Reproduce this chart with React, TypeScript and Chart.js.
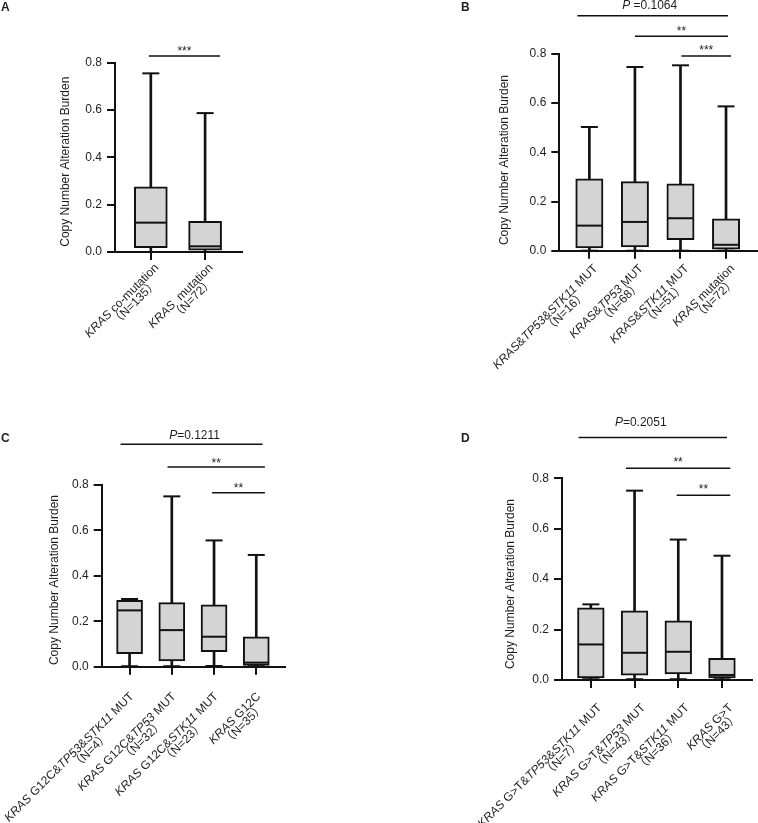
import React, { useEffect, useRef } from "react";
import { Chart, registerables } from "chart.js";

Chart.register(...registerables);

const FONT = '"Liberation Sans", Arial, "Noto Sans CJK SC", sans-serif';
const INK = "#111";
const TEXT = "#1e1e1e";
const BOX_FILL = "#d4d4d4";

// shared y axis
const yTickValues = [0, 0.2, 0.4, 0.6, 0.8];
const yTitle = "Copy Number Alteration Burden";

// ---- Panel A ----
const aCategories = ["_KRAS_ co-mutation", "_KRAS_  mutation"];
const aCounts = ["（N=135）", "（N=72）"];
const aMin = [0, 0];
const aQ1 = [0.018, 0.008];
const aMedian = [0.124, 0.024];
const aQ3 = [0.275, 0.13];
const aMax = [0.755, 0.587];

// ---- Panel B ----
const bCategories = ["_KRAS_&_TP53_&_STK11_ MUT", "_KRAS_&_TP53_ MUT", "_KRAS_&_STK11_ MUT", "_KRAS_ mutation"];
const bCounts = ["（N=16）", "（N=68）", "（N=51）", "（N=72）"];
const bMin = [0, 0, 0, 0];
const bQ1 = [0.011, 0.015, 0.045, 0.006];
const bMedian = [0.102, 0.117, 0.132, 0.024];
const bQ3 = [0.292, 0.281, 0.272, 0.13];
const bMax = [0.503, 0.747, 0.754, 0.587];

// ---- Panel C ----
const cCategories = ["_KRAS_ G12C&_TP53_&_STK11_ MUT", "_KRAS_ G12C&_TP53_ MUT", "_KRAS_ G12C&_STK11_ MUT", "_KRAS_ G12C"];
const cCounts = ["（N=4）", "（N=32）", "（N=23）", "（N=35）"];
const cMin = [0.002, 0.002, 0.003, 0.002];
const cQ1 = [0.057, 0.025, 0.066, 0.006];
const cMedian = [0.248, 0.161, 0.132, 0.018];
const cQ3 = [0.292, 0.282, 0.272, 0.132];
const cMax = [0.298, 0.75, 0.556, 0.492];

// ---- Panel D ----
const dCategories = ["_KRAS_ G>T&_TP53_&_STK11_ MUT", "_KRAS_ G>T&_TP53_ MUT", "_KRAS_ G>T&_STK11_ MUT", "_KRAS_ G>T"];
const dCounts = ["（N=7）", "（N=43）", "（N=36）", "（N=43）"];
const dMin = [0.003, 0.003, 0.003, 0.003];
const dQ1 = [0.008, 0.019, 0.024, 0.008];
const dMedian = [0.141, 0.108, 0.112, 0.02];
const dQ3 = [0.286, 0.274, 0.235, 0.086];
const dMax = [0.3, 0.751, 0.557, 0.493];

// significance annotations
const aTests = [{ from: 0, to: 1, text: "***" }];
const bTests = [
  { from: 0, to: 3, text: "_P_ =0.1064" },
  { from: 1, to: 3, text: "**" },
  { from: 2, to: 3, text: "***" },
];
const cTests = [
  { from: 0, to: 3, text: "_P_=0.1211" },
  { from: 1, to: 3, text: "**" },
  { from: 2, to: 3, text: "**" },
];
const dTests = [
  { from: 0, to: 3, text: "_P_=0.2051" },
  { from: 1, to: 3, text: "**" },
  { from: 2, to: 3, text: "**" },
];

type Panel = {
  letter: string;
  x: number; y: number; w: number; h: number;
  area: { left: number; top: number; right: number; bottom: number };
  cats: string[]; counts: string[];
  min: number[]; q1: number[]; med: number[]; q3: number[]; max: number[];
  tests: { from: number; to: number; text: string }[];
  // layout of annotations: [y level in axis units, dx start, dx end, text dy, text dx]
  testLayout: number[][];
  boxW: number; capW: number;
  lab: { dx: number; dy: number; gap: number; shift: number };
  titlePos: [number, number];
  letterPos: [number, number];
};

const panels: Panel[] = [
  {
    letter: "A", x: 0, y: 0, w: 379, h: 400,
    area: { left: 115, top: 62.7, right: 242, bottom: 252 },
    cats: aCategories, counts: aCounts, min: aMin, q1: aQ1, med: aMedian, q3: aQ3, max: aMax,
    tests: aTests, testLayout: [[0.828, -2, 15, 1.5, 0]],
    boxW: 33, capW: 17,
    lab: { dx: 6, dy: 14, gap: 10.5, shift: 0.3 },
    titlePos: [65.7, 161.7], letterPos: [1, 2],
  },
  {
    letter: "B", x: 379, y: 0, w: 379, h: 400,
    area: { left: 180.3, top: 54, right: 378, bottom: 250.7 },
    cats: bCategories, counts: bCounts, min: bMin, q1: bQ1, med: bMedian, q3: bQ3, max: bMax,
    tests: bTests, testLayout: [[0.956, -12, 2, 6.4, -3], [0.872, 0, 2, 1.5, 0], [0.792, 1, 5, 1.5, 0]],
    boxW: 27.3, capW: 17,
    lab: { dx: 6.5, dy: 16, gap: 10.5, shift: 0.3 },
    titlePos: [125.7, 160], letterPos: [82, 2],
  },
  {
    letter: "C", x: 0, y: 400, w: 379, h: 423,
    area: { left: 101.7, top: 85, right: 285, bottom: 266.7 },
    cats: cCategories, counts: cCounts, min: cMin, q1: cQ1, med: cMedian, q3: cQ3, max: cMax,
    tests: cTests, testLayout: [[0.979, -9, 6.3, 5, 3], [0.879, -4.3, 8.6, 0.5, 0], [0.766, -2, 8.6, 0.5, 0]],
    boxW: 26, capW: 17,
    lab: { dx: 2.4, dy: 28, gap: 10.5, shift: 0.35 },
    titlePos: [54.7, 180], letterPos: [1, 33],
  },
  {
    letter: "D", x: 379, y: 400, w: 379, h: 423,
    area: { left: 183, top: 78.3, right: 372.7, bottom: 280 },
    cats: dCategories, counts: dCounts, min: dMin, q1: dQ1, med: dMedian, q3: dQ3, max: dMax,
    tests: dTests, testLayout: [[0.962, -12.3, 5, 11.8, -12], [0.84, -8.6, 8.3, 2.5, 0], [0.733, -1.6, 8.3, 2.5, 0]],
    boxW: 26.7, capW: 17,
    lab: { dx: 9, dy: 26, gap: 10.5, shift: 0.33 },
    titlePos: [131.7, 184], letterPos: [82, 33],
  },
];

function richWidths(ctx: CanvasRenderingContext2D, text: string, size: number, weight = "") {
  const parts = text.split("_");
  const widths = parts.map((s, k) => {
    ctx.font = `${k % 2 ? "italic " : ""}${weight}${size}px ${FONT}`;
    return ctx.measureText(s).width;
  });
  return { parts, widths, total: widths.reduce((a, b) => a + b, 0) };
}

function drawRich(ctx: CanvasRenderingContext2D, text: string, x: number, y: number, size: number, align: "left" | "right" | "center") {
  const { parts, widths, total } = richWidths(ctx, text, size);
  let cx = align === "left" ? x : align === "right" ? x - total : x - total / 2;
  ctx.textAlign = "left";
  parts.forEach((s, k) => {
    ctx.font = `${k % 2 ? "italic " : ""}${size}px ${FONT}`;
    ctx.fillText(s, cx, y);
    cx += widths[k];
  });
  return total;
}

function extrasPlugin(p: Panel) {
  return {
    id: "boxExtras" + p.letter,
    afterDatasetsDraw(chart: any) {
      const ctx: CanvasRenderingContext2D = chart.ctx;
      const xs = chart.scales.x;
      const ys = chart.scales.y;
      ctx.save();
      ctx.strokeStyle = INK;
      ctx.lineWidth = 2;
      p.med.forEach((m, i) => {
        const cx = xs.getPixelForValue(i);
        const ym = ys.getPixelForValue(m);
        ctx.beginPath();
        ctx.moveTo(cx - p.boxW / 2 + 1, ym);
        ctx.lineTo(cx + p.boxW / 2 - 1, ym);
        ctx.stroke();
        for (const v of [p.max[i], p.min[i]]) {
          const yv = ys.getPixelForValue(v);
          ctx.beginPath();
          ctx.moveTo(cx - p.capW / 2, yv);
          ctx.lineTo(cx + p.capW / 2, yv);
          ctx.stroke();
        }
      });
      ctx.restore();
    },
    afterDraw(chart: any) {
      const ctx: CanvasRenderingContext2D = chart.ctx;
      const xs = chart.scales.x;
      const ys = chart.scales.y;
      const axisY = chart.chartArea.bottom;
      ctx.save();
      ctx.fillStyle = TEXT;
      // category labels, rotated 45 degrees
      ctx.textBaseline = "middle";
      p.cats.forEach((cat, i) => {
        const cx = xs.getPixelForValue(i);
        ctx.save();
        ctx.translate(cx + p.lab.dx, axisY + p.lab.dy);
        ctx.rotate(-Math.PI / 4);
        const w1 = richWidths(ctx, cat, 12).total;
        const w2 = richWidths(ctx, p.counts[i], 12).total;
        drawRich(ctx, cat, 0, 0, 12, "right");
        drawRich(ctx, p.counts[i], -(w1 - w2) * p.lab.shift, p.lab.gap, 12, "right");
        ctx.restore();
      });
      // y axis title
      ctx.save();
      ctx.translate(p.titlePos[0], p.titlePos[1]);
      ctx.rotate(-Math.PI / 2);
      ctx.font = `12px ${FONT}`;
      ctx.textAlign = "center";
      ctx.textBaseline = "middle";
      ctx.fillText(yTitle, 0, 0);
      ctx.restore();
      // panel letter
      ctx.font = `bold 12px ${FONT}`;
      ctx.textAlign = "left";
      ctx.textBaseline = "top";
      ctx.fillText(p.letter, p.letterPos[0], p.letterPos[1]);
      // significance brackets
      ctx.strokeStyle = INK;
      ctx.lineWidth = 1.5;
      ctx.textBaseline = "alphabetic";
      p.tests.forEach((t, k) => {
        const [lvl, dx0, dx1, tdy, tdx] = p.testLayout[k];
        const y = ys.getPixelForValue(lvl);
        const x0 = xs.getPixelForValue(t.from) + dx0;
        const x1 = xs.getPixelForValue(t.to) + dx1;
        ctx.beginPath();
        ctx.moveTo(x0, y);
        ctx.lineTo(x1, y);
        ctx.stroke();
        drawRich(ctx, t.text, (x0 + x1) / 2 + tdx, y - tdy, 12, "center");
      });
      ctx.restore();
    },
  };
}

function makeChart(canvas: HTMLCanvasElement, p: Panel) {
  const n = p.cats.length;
  const idx = p.cats.map((_, i) => i);
  const axisBorder = { display: true, width: 2, color: INK };
  return new Chart(canvas, {
    type: "bar",
    data: {
      datasets: [
        {
          label: "box",
          data: idx.map((i) => ({ x: i, y: [p.q1[i], p.q3[i]] })) as any,
          backgroundColor: BOX_FILL,
          borderColor: INK,
          borderWidth: 2,
          borderSkipped: false,
          barThickness: p.boxW,
          grouped: false,
        } as any,
        {
          label: "whisker",
          data: idx.map((i) => ({ x: i, y: [p.min[i], p.max[i]] })) as any,
          backgroundColor: INK,
          borderWidth: 0,
          barThickness: 2,
          grouped: false,
        } as any,
      ],
    },
    options: {
      animation: false,
      responsive: false,
      maintainAspectRatio: false,
      devicePixelRatio: 1,
      events: [],
      layout: { padding: { left: 0, top: p.area.top, right: p.w - p.area.right, bottom: 0 } },
      plugins: { legend: { display: false }, tooltip: { enabled: false }, title: { display: false } },
      scales: {
        x: {
          type: "linear",
          offset: false,
          min: -0.66,
          max: n - 0.32,
          afterBuildTicks: (s: any) => { s.ticks = idx.map((v) => ({ value: v })); },
          afterFit: (s: any) => { s.height = p.h - p.area.bottom; },
          grid: { offset: false, drawOnChartArea: false, drawTicks: true, tickLength: 8, lineWidth: 2, color: INK },
          border: axisBorder,
          ticks: { display: false },
        },
        y: {
          type: "linear",
          min: 0,
          max: 0.8,
          afterBuildTicks: (s: any) => { s.ticks = yTickValues.map((v) => ({ value: v })); },
          afterFit: (s: any) => { s.width = p.area.left; },
          grid: { offset: false, drawOnChartArea: false, drawTicks: true, tickLength: 8, lineWidth: 2, color: INK },
          border: axisBorder,
          ticks: {
            padding: 5,
            color: TEXT,
            font: { family: FONT, size: 12 },
            callback: (v: any) => Number(v).toFixed(1),
          },
        },
      } as any,
    },
    plugins: [extrasPlugin(p)],
  } as any);
}

function PanelChart({ p }: { p: Panel }) {
  const ref = useRef<HTMLCanvasElement | null>(null);
  useEffect(() => {
    const chart = makeChart(ref.current as HTMLCanvasElement, p);
    return () => chart.destroy();
  }, [p]);
  return (
    <div style={{ position: "absolute", left: p.x, top: p.y, width: p.w, height: p.h }}>
      <canvas ref={ref} width={p.w} height={p.h} style={{ width: p.w, height: p.h, display: "block" }} />
    </div>
  );
}

export default function App() {
  return (
    <div style={{ position: "absolute", left: 0, top: 0, width: 758, height: 823, background: "#fff" }}>
      {panels.map((p) => (
        <PanelChart key={p.letter} p={p} />
      ))}
    </div>
  );
}
